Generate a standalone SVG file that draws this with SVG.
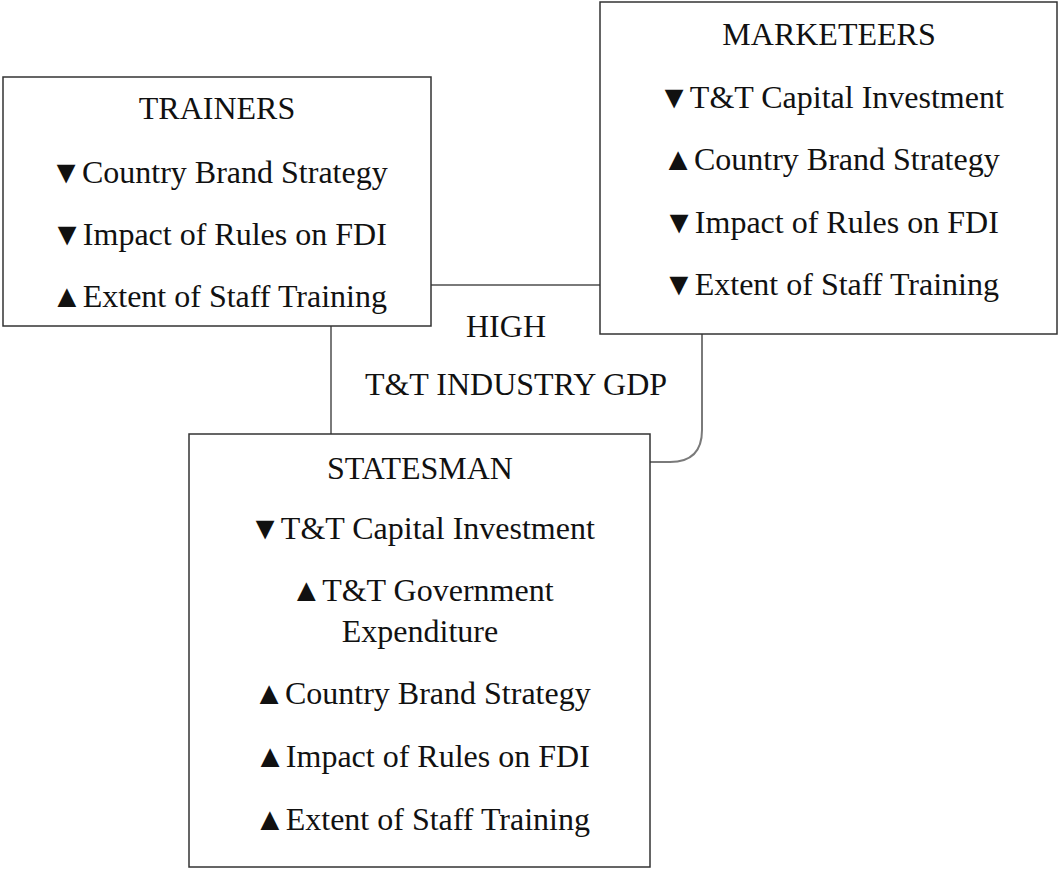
<svg xmlns="http://www.w3.org/2000/svg" width="1059" height="871" viewBox="0 0 1059 871">
  <style>
    .box { fill: #ffffff; stroke: #333333; stroke-width: 1.5; }
    .link { fill: none; stroke: #7a7a7a; stroke-width: 2; }
    text { font-family: "Liberation Serif", "Times New Roman", serif; font-size: 32px; fill: #111111; text-anchor: middle; }
  </style>
  <rect width="1059" height="871" fill="#ffffff"/>

  <!-- connectors between the three groups -->
  <g id="connectors">
    <line class="link" x1="431" y1="285" x2="600" y2="285"/>
    <line class="link" x1="331" y1="326" x2="331" y2="434"/>
    <path class="link" d="M702,334 V430 Q702,462 670,462 H650"/>
  </g>

  <g id="trainers">
    <rect class="box" x="3" y="77" width="428" height="249"/>
    <text x="217" y="119">TRAINERS</text>
    <text x="219" y="183">▼Country Brand Strategy</text>
    <text x="219" y="245">▼Impact of Rules on FDI</text>
    <text x="219" y="307">▲Extent of Staff Training</text>
  </g>

  <g id="marketeers">
    <rect class="box" x="600" y="2" width="457" height="332"/>
    <text x="829" y="45">MARKETEERS</text>
    <text x="831" y="108">▼T&amp;T Capital Investment</text>
    <text x="831" y="170">▲Country Brand Strategy</text>
    <text x="831" y="233">▼Impact of Rules on FDI</text>
    <text x="831" y="295">▼Extent of Staff Training</text>
  </g>

  <g id="gdp-label">
    <text x="506" y="337">HIGH</text>
    <text x="516" y="395">T&amp;T INDUSTRY GDP</text>
  </g>

  <g id="statesman">
    <rect class="box" x="189" y="434" width="461" height="433"/>
    <text x="420" y="479">STATESMAN</text>
    <text x="422" y="539">▼T&amp;T Capital Investment</text>
    <text x="422" y="601">▲T&amp;T Government</text>
    <text x="420" y="642">Expenditure</text>
    <text x="422" y="704">▲Country Brand Strategy</text>
    <text x="422" y="767">▲Impact of Rules on FDI</text>
    <text x="422" y="830">▲Extent of Staff Training</text>
  </g>
</svg>
